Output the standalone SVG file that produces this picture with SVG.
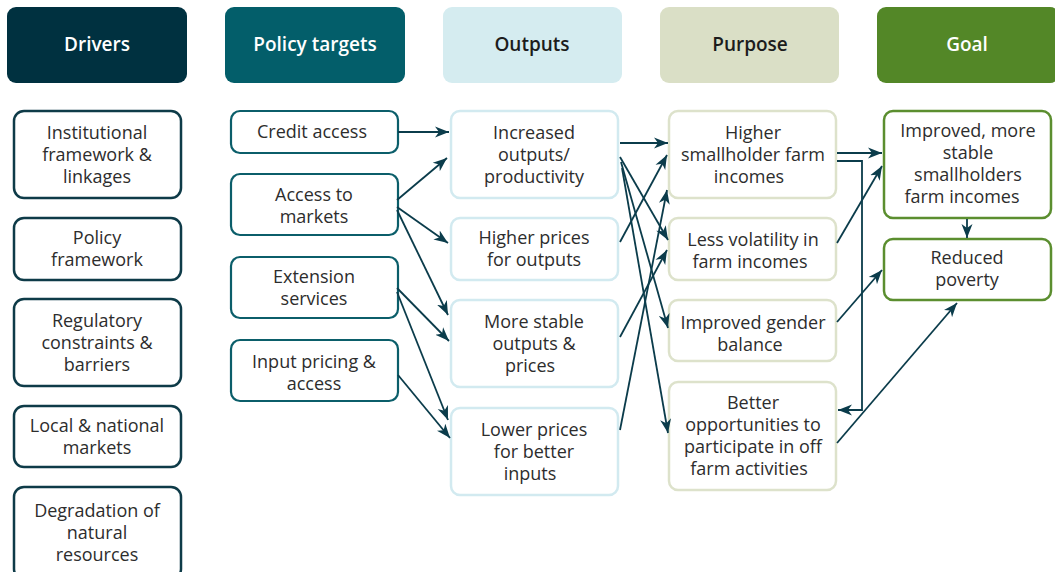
<svg xmlns="http://www.w3.org/2000/svg" width="1055" height="572" viewBox="0 0 1055 572">
<style>
text{font-family:"Open Sans","Noto Sans","Liberation Sans",sans-serif;font-size:18px;fill:#2d2d2d;text-anchor:middle}
.h{font-size:19px;font-weight:600}
.hw{fill:#ffffff}
.hd{fill:#1c1c1c}
.drv{fill:#fff;stroke:#0e3b48;stroke-width:2.5}
.pol{fill:#fff;stroke:#0b5e6a;stroke-width:2.2}
.out{fill:#fff;stroke:#d2eaf0;stroke-width:2.5}
.pur{fill:#fff;stroke:#dde2cb;stroke-width:2.5}
.goal{fill:#fff;stroke:#5b8e2f;stroke-width:2.5}
.c{fill:none;stroke:#0b3c4b;stroke-width:1.8;marker-end:url(#ah)}
</style>
<defs>
<marker id="ah" markerUnits="userSpaceOnUse" markerWidth="15" markerHeight="12" refX="14" refY="6" orient="auto">
<path d="M0,0.5 L14,6 L0,11.5 L4,6 Z" fill="#0b3c4b"/>
</marker>
</defs>
<rect width="1055" height="572" fill="#ffffff"/>

<g id="h-drivers"><rect x="7" y="7" width="180" height="76" rx="9" fill="#003140"/><text class="h hw" x="97" y="51">Drivers</text></g>
<g id="h-policy"><rect x="225" y="7" width="180" height="76" rx="9" fill="#035e6a"/><text class="h hw" x="315" y="51">Policy targets</text></g>
<g id="h-outputs"><rect x="443" y="7" width="179" height="76" rx="9" fill="#d5ecf0"/><text class="h hd" x="532" y="51">Outputs</text></g>
<g id="h-purpose"><rect x="660" y="7" width="179" height="76" rx="9" fill="#dadfc6"/><text class="h hd" x="750" y="51">Purpose</text></g>
<g id="h-goal"><rect x="877" y="7" width="182" height="76" rx="9" fill="#538727"/><text class="h hw" x="967" y="51">Goal</text></g>

<g id="d1"><rect class="drv" x="14" y="111" width="167" height="87" rx="10"/><text x="97" y="139">Institutional</text><text x="97" y="161">framework &amp;</text><text x="97" y="183">linkages</text></g>
<g id="d2"><rect class="drv" x="14" y="218" width="167" height="62" rx="10"/><text x="97" y="244">Policy</text><text x="97" y="266">framework</text></g>
<g id="d3"><rect class="drv" x="14" y="299" width="167" height="87" rx="10"/><text x="97" y="327">Regulatory</text><text x="97" y="349">constraints &amp;</text><text x="97" y="371">barriers</text></g>
<g id="d4"><rect class="drv" x="14" y="406" width="167" height="61" rx="10"/><text x="97" y="432">Local &amp; national</text><text x="97" y="454">markets</text></g>
<g id="d5"><rect class="drv" x="14" y="487" width="167" height="92" rx="10"/><text x="97" y="517">Degradation of</text><text x="97" y="539">natural</text><text x="97" y="561">resources</text></g>

<g id="p1"><rect class="pol" x="231" y="111" width="167" height="42" rx="9"/><text x="312" y="138">Credit access</text></g>
<g id="p2"><rect class="pol" x="231" y="174" width="167" height="61" rx="9"/><text x="314" y="201">Access to</text><text x="314" y="223">markets</text></g>
<g id="p3"><rect class="pol" x="231" y="257" width="167" height="61" rx="9"/><text x="314" y="283">Extension</text><text x="314" y="305">services</text></g>
<g id="p4"><rect class="pol" x="231" y="340" width="167" height="61" rx="9"/><text x="314" y="368">Input pricing &amp;</text><text x="314" y="390">access</text></g>

<g id="o1"><rect class="out" x="451" y="111" width="167" height="87" rx="9"/><text x="534" y="139">Increased</text><text x="534" y="161">outputs/</text><text x="534" y="183">productivity</text></g>
<g id="o2"><rect class="out" x="451" y="218" width="167" height="62" rx="9"/><text x="534" y="244">Higher prices</text><text x="534" y="266">for outputs</text></g>
<g id="o3"><rect class="out" x="451" y="300" width="167" height="87" rx="9"/><text x="534" y="328">More stable</text><text x="534" y="350">outputs &amp;</text><text x="530" y="372">prices</text></g>
<g id="o4"><rect class="out" x="451" y="408" width="167" height="87" rx="9"/><text x="534" y="436">Lower prices</text><text x="534" y="458">for better</text><text x="530" y="480">inputs</text></g>

<g id="u1"><rect class="pur" x="669" y="111" width="167" height="87" rx="9"/><text x="753" y="139">Higher</text><text x="753" y="161">smallholder farm</text><text x="749" y="183">incomes</text></g>
<g id="u2"><rect class="pur" x="669" y="218" width="167" height="62" rx="9"/><text x="753" y="246">Less volatility in</text><text x="750" y="268">farm incomes</text></g>
<g id="u3"><rect class="pur" x="669" y="300" width="167" height="61" rx="9"/><text x="753" y="329">Improved gender</text><text x="750" y="351">balance</text></g>
<g id="u4"><rect class="pur" x="669" y="382" width="167" height="108" rx="9"/><text x="753" y="409">Better</text><text x="753" y="431">opportunities to</text><text x="753" y="453">participate in off</text><text x="749" y="475">farm activities</text></g>

<g id="g1"><rect class="goal" x="884" y="111" width="167" height="107" rx="9"/><text x="968" y="137">Improved, more</text><text x="968" y="159">stable</text><text x="968" y="181">smallholders</text><text x="962" y="203">farm incomes</text></g>
<g id="g2"><rect class="goal" x="884" y="239" width="167" height="61" rx="9"/><text x="967" y="264">Reduced</text><text x="967" y="286">poverty</text></g>

<g id="connectors">
<line class="c" x1="398" y1="132" x2="449" y2="132"/>
<line class="c" x1="397" y1="200" x2="447" y2="158"/>
<line class="c" x1="397" y1="207" x2="448" y2="243"/>
<line class="c" x1="397" y1="210" x2="448" y2="315"/>
<line class="c" x1="397" y1="288" x2="449" y2="341"/>
<line class="c" x1="397" y1="292" x2="448" y2="420"/>
<line class="c" x1="398" y1="375" x2="450" y2="438"/>
<line class="c" x1="620" y1="143" x2="668" y2="143"/>
<line class="c" x1="620" y1="157" x2="668" y2="240"/>
<line class="c" x1="621" y1="162" x2="668" y2="328"/>
<line class="c" x1="622" y1="168" x2="668" y2="433"/>
<line class="c" x1="620" y1="242" x2="667" y2="155"/>
<line class="c" x1="620" y1="337" x2="667" y2="250"/>
<line class="c" x1="620" y1="430" x2="667" y2="190"/>
<line class="c" x1="837" y1="153" x2="882" y2="153"/>
<polyline class="c" points="837,161 862,161 862,410 838,410"/>
<line class="c" x1="837" y1="243" x2="882" y2="166"/>
<line class="c" x1="837" y1="322" x2="882" y2="270"/>
<line class="c" x1="837" y1="443" x2="957" y2="303"/>
<line class="c" x1="967" y1="219" x2="967" y2="238"/>
</g>
</svg>
